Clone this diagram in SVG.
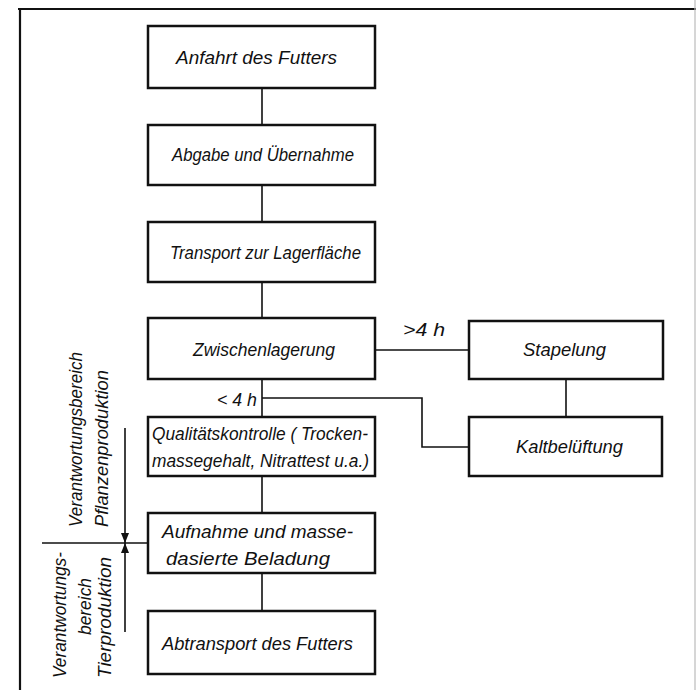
<svg xmlns="http://www.w3.org/2000/svg" width="696" height="690" viewBox="0 0 696 690">
<defs>
<style>
.box{fill:#fff;stroke:#111;stroke-width:2.5}
.ln{fill:none;stroke:#111;stroke-width:1.6}
.fr{fill:none;stroke:#111;stroke-width:2.2}
text{font-family:"Liberation Sans","DejaVu Sans",sans-serif;font-style:italic;font-size:18px;fill:#111}
</style>
<marker id="ah" viewBox="0 0 10 8" refX="10" refY="4" markerWidth="12" markerHeight="8" markerUnits="userSpaceOnUse" orient="auto">
<path d="M0,0 L10,4 L0,8 Z" fill="#111"/>
</marker>
</defs>
<rect width="696" height="690" fill="#fff"/>
<g id="frame">
<path class="fr" d="M18,9 H696 M20,8 V690"/>
<path d="M695,0 V690" stroke="#bbb" stroke-width="1.2" fill="none"/>
</g>
<g id="connectors">
<path class="ln" d="M262,88 V125 M262,185 V222 M262,282 V318 M262,379 V417 M262,476 V513 M262,573 V611"/>
<path class="ln" d="M375,350 H469"/>
<path class="ln" d="M566,379 V417"/>
<path class="ln" d="M262,398 H422 V447 H469"/>
<text x="403" y="336" textLength="42" lengthAdjust="spacingAndGlyphs">&gt;4 h</text>
<text x="217" y="406" textLength="40" lengthAdjust="spacingAndGlyphs">&lt; 4 h</text>
</g>
<g id="responsibility">
<path class="ln" d="M42,543 H148"/>
<path class="ln" d="M125,428 V543" marker-end="url(#ah)"/>
<path class="ln" d="M125,632 V543" marker-end="url(#ah)"/>
<text transform="translate(82,527) rotate(-90)" textLength="175" lengthAdjust="spacingAndGlyphs">Verantwortungsbereich</text>
<text transform="translate(108,527) rotate(-90)" textLength="157" lengthAdjust="spacingAndGlyphs">Pflanzenproduktion</text>
<text transform="translate(66,678) rotate(-90)" textLength="126" lengthAdjust="spacingAndGlyphs">Verantwortungs-</text>
<text transform="translate(91,635) rotate(-90)" textLength="57" lengthAdjust="spacingAndGlyphs">bereich</text>
<text transform="translate(111,678) rotate(-90)" textLength="121" lengthAdjust="spacingAndGlyphs">Tierproduktion</text>
</g>
<g id="n1"><rect class="box" x="148" y="26" width="227" height="62"/><text x="176" y="64" textLength="161" lengthAdjust="spacingAndGlyphs">Anfahrt des Futters</text></g>
<g id="n2"><rect class="box" x="148" y="125" width="227" height="60"/><text x="172" y="161" textLength="182" lengthAdjust="spacingAndGlyphs">Abgabe und Übernahme</text></g>
<g id="n3"><rect class="box" x="148" y="222" width="227" height="60"/><text x="170" y="259" textLength="191" lengthAdjust="spacingAndGlyphs">Transport zur Lagerfläche</text></g>
<g id="n4"><rect class="box" x="148" y="318" width="227" height="61"/><text x="193" y="356" textLength="142" lengthAdjust="spacingAndGlyphs">Zwischenlagerung</text></g>
<g id="n5"><rect class="box" x="148" y="417" width="227" height="59"/><text x="152" y="440" textLength="216" lengthAdjust="spacingAndGlyphs">Qualitätskontrolle ( Trocken-</text><text x="152" y="467" textLength="217" lengthAdjust="spacingAndGlyphs">massegehalt, Nitrattest u.a.)</text></g>
<g id="n6"><rect class="box" x="148" y="513" width="227" height="60"/><text x="162" y="538" textLength="191" lengthAdjust="spacingAndGlyphs">Aufnahme  und  masse-</text><text x="166" y="565" textLength="164" lengthAdjust="spacingAndGlyphs">dasierte  Beladung</text></g>
<g id="n7"><rect class="box" x="148" y="611" width="227" height="63"/><text x="162" y="650" textLength="191" lengthAdjust="spacingAndGlyphs">Abtransport des Futters</text></g>
<g id="n8"><rect class="box" x="469" y="321" width="194" height="58"/><text x="523" y="356" textLength="83" lengthAdjust="spacingAndGlyphs">Stapelung</text></g>
<g id="n9"><rect class="box" x="469" y="417" width="193" height="59"/><text x="516" y="453" textLength="107" lengthAdjust="spacingAndGlyphs">Kaltbelüftung</text></g>
</svg>
